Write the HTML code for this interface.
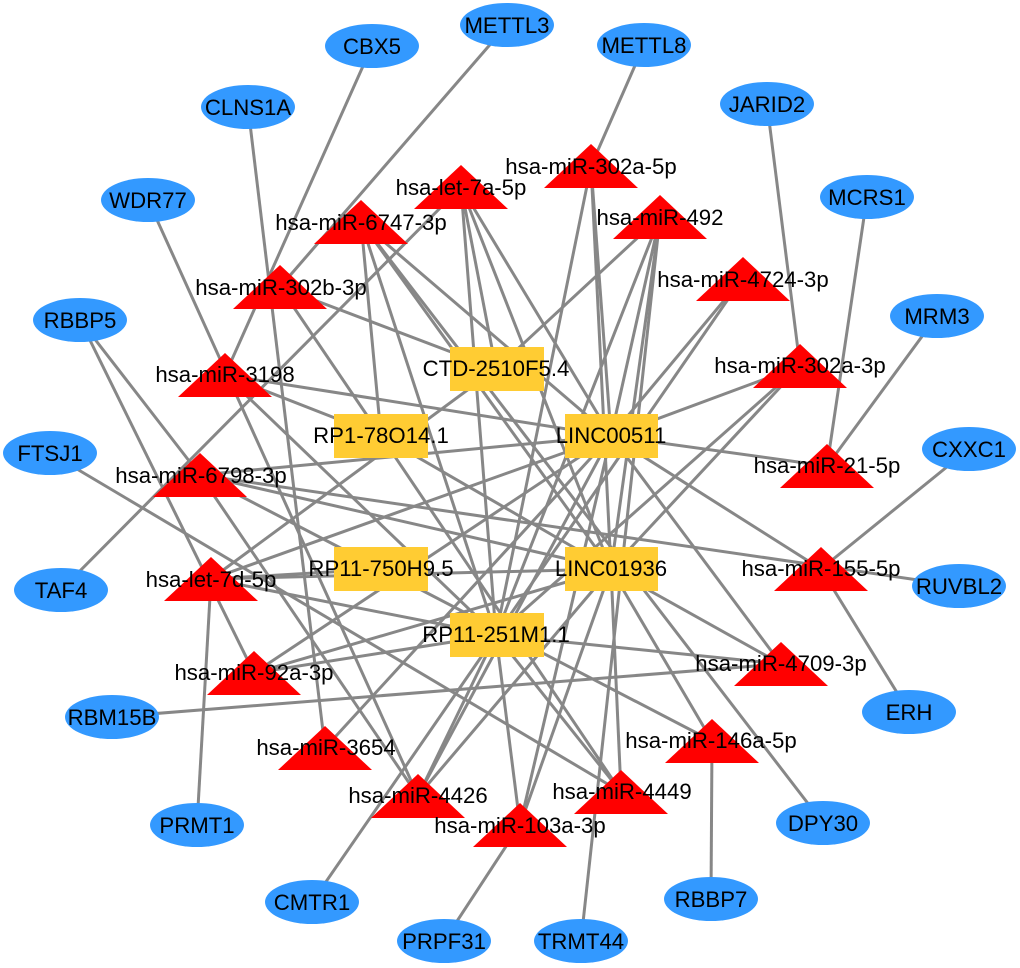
<!DOCTYPE html>
<html>
<head>
<meta charset="utf-8">
<style>
html,body{margin:0;padding:0;background:#fff;}
svg{display:block;}
text{font-family:"Liberation Sans",Arial,sans-serif;font-size:22.2px;fill:#000;text-anchor:middle;}
line{stroke:#878787;stroke-width:3;}
ellipse{fill:#3399ff;}
polygon{fill:#ff0000;}
rect{fill:#ffcc33;}
</style>
</head>
<body>
<svg width="1020" height="968" viewBox="0 0 1020 968" xmlns="http://www.w3.org/2000/svg">
<rect x="0" y="0" width="1020" height="968" style="fill:#fff"/>
<g>
<line x1="507" y1="25" x2="280" y2="287"/>
<line x1="372" y1="46" x2="225" y2="375"/>
<line x1="644" y1="45" x2="591" y2="166"/>
<line x1="248" y1="107" x2="325" y2="748"/>
<line x1="767" y1="104" x2="800" y2="366"/>
<line x1="148" y1="200" x2="418" y2="796"/>
<line x1="867" y1="197" x2="827" y2="466"/>
<line x1="80" y1="320" x2="200" y2="475"/>
<line x1="80" y1="320" x2="254" y2="673"/>
<line x1="937" y1="316" x2="827" y2="466"/>
<line x1="50" y1="453" x2="621" y2="792"/>
<line x1="969" y1="449" x2="821" y2="569"/>
<line x1="61" y1="590" x2="461" y2="187"/>
<line x1="959" y1="586" x2="200" y2="475"/>
<line x1="112" y1="717" x2="781" y2="664"/>
<line x1="909" y1="712" x2="821" y2="569"/>
<line x1="197" y1="825" x2="211" y2="579"/>
<line x1="823" y1="823" x2="361" y2="222"/>
<line x1="312" y1="902" x2="742" y2="279"/>
<line x1="711" y1="899" x2="712" y2="741"/>
<line x1="444" y1="941" x2="520" y2="825"/>
<line x1="581" y1="941" x2="660" y2="217"/>

<line x1="591" y1="166" x2="496" y2="635"/>
<line x1="591" y1="166" x2="611" y2="436"/>
<line x1="591" y1="166" x2="611" y2="569"/>

<line x1="461" y1="187" x2="496" y2="635"/>
<line x1="461" y1="187" x2="496" y2="369"/>
<line x1="461" y1="187" x2="611" y2="569"/>
<line x1="461" y1="187" x2="611" y2="436"/>

<line x1="361" y1="222" x2="381" y2="436"/>
<line x1="361" y1="222" x2="496" y2="635"/>
<line x1="361" y1="222" x2="611" y2="569"/>
<line x1="361" y1="222" x2="611" y2="436"/>

<line x1="280" y1="287" x2="381" y2="436"/>
<line x1="280" y1="287" x2="496" y2="369"/>

<line x1="225" y1="375" x2="611" y2="436"/>
<line x1="225" y1="375" x2="381" y2="436"/>
<line x1="225" y1="375" x2="496" y2="635"/>

<line x1="200" y1="475" x2="611" y2="436"/>
<line x1="200" y1="475" x2="611" y2="569"/>
<line x1="200" y1="475" x2="381" y2="569"/>
<line x1="200" y1="475" x2="418" y2="796"/>

<line x1="211" y1="579" x2="496" y2="369"/>
<line x1="211" y1="579" x2="611" y2="436"/>
<line x1="211" y1="579" x2="381" y2="569"/>
<line x1="211" y1="579" x2="611" y2="569"/>
<line x1="211" y1="579" x2="496" y2="635"/>

<line x1="254" y1="673" x2="611" y2="569"/>
<line x1="254" y1="673" x2="496" y2="635"/>
<line x1="254" y1="673" x2="611" y2="436"/>

<line x1="325" y1="748" x2="611" y2="436"/>

<line x1="418" y1="796" x2="496" y2="635"/>
<line x1="418" y1="796" x2="611" y2="436"/>
<line x1="418" y1="796" x2="611" y2="569"/>

<line x1="520" y1="825" x2="496" y2="635"/>
<line x1="520" y1="825" x2="611" y2="436"/>
<line x1="520" y1="825" x2="611" y2="569"/>

<line x1="621" y1="792" x2="611" y2="569"/>
<line x1="621" y1="792" x2="496" y2="635"/>
<line x1="621" y1="792" x2="381" y2="436"/>

<line x1="712" y1="741" x2="611" y2="569"/>
<line x1="712" y1="741" x2="381" y2="569"/>

<line x1="781" y1="664" x2="611" y2="436"/>
<line x1="781" y1="664" x2="611" y2="569"/>
<line x1="781" y1="664" x2="496" y2="635"/>

<line x1="821" y1="569" x2="611" y2="436"/>
<line x1="827" y1="466" x2="611" y2="436"/>

<line x1="800" y1="366" x2="611" y2="436"/>
<line x1="800" y1="366" x2="611" y2="569"/>
<line x1="800" y1="366" x2="496" y2="635"/>

<line x1="742" y1="279" x2="611" y2="436"/>

<line x1="660" y1="217" x2="496" y2="369"/>
<line x1="660" y1="217" x2="496" y2="635"/>
<line x1="660" y1="217" x2="611" y2="436"/>
<line x1="660" y1="217" x2="611" y2="569"/>

<line x1="381" y1="436" x2="611" y2="569"/>
</g>
<g>
<ellipse cx="507" cy="25" rx="47" ry="22"/>
<ellipse cx="372" cy="46" rx="47" ry="22"/>
<ellipse cx="644" cy="45" rx="47" ry="22"/>
<ellipse cx="248" cy="107" rx="47" ry="22"/>
<ellipse cx="767" cy="104" rx="47" ry="22"/>
<ellipse cx="148" cy="200" rx="47" ry="22"/>
<ellipse cx="867" cy="197" rx="47" ry="22"/>
<ellipse cx="80" cy="320" rx="47" ry="22"/>
<ellipse cx="937" cy="316" rx="47" ry="22"/>
<ellipse cx="50" cy="453" rx="47" ry="22"/>
<ellipse cx="969" cy="449" rx="47" ry="22"/>
<ellipse cx="61" cy="590" rx="47" ry="22"/>
<ellipse cx="959" cy="586" rx="47" ry="22"/>
<ellipse cx="112" cy="717" rx="47" ry="22"/>
<ellipse cx="909" cy="712" rx="47" ry="22"/>
<ellipse cx="197" cy="825" rx="47" ry="22"/>
<ellipse cx="823" cy="823" rx="47" ry="22"/>
<ellipse cx="312" cy="902" rx="47" ry="22"/>
<ellipse cx="711" cy="899" rx="47" ry="22"/>
<ellipse cx="444" cy="941" rx="47" ry="22"/>
<ellipse cx="581" cy="941" rx="47" ry="22"/>
</g>
<g>
<polygon points="591,144 638,188 544,188"/>
<polygon points="461,165 508,209 414,209"/>
<polygon points="361,200 408,244 314,244"/>
<polygon points="280,265 327,309 233,309"/>
<polygon points="225,353 272,397 178,397"/>
<polygon points="200,453 247,497 153,497"/>
<polygon points="211,557 258,601 164,601"/>
<polygon points="254,651 301,695 207,695"/>
<polygon points="325,726 372,770 278,770"/>
<polygon points="418,774 465,818 371,818"/>
<polygon points="520,803 567,847 473,847"/>
<polygon points="621,770 668,814 574,814"/>
<polygon points="712,719 759,763 665,763"/>
<polygon points="781,642 828,686 734,686"/>
<polygon points="821,547 868,591 774,591"/>
<polygon points="827,444 874,488 780,488"/>
<polygon points="800,344 847,388 753,388"/>
<polygon points="743,257 790,301 696,301"/>
<polygon points="660,195 707,239 613,239"/>
</g>
<g>
<rect x="450" y="347" width="94" height="44"/>
<rect x="334" y="414" width="94" height="44"/>
<rect x="565" y="414" width="93" height="44"/>
<rect x="334" y="547" width="94" height="44"/>
<rect x="565" y="547" width="93" height="44"/>
<rect x="450" y="613" width="94" height="44"/>
</g>
<g>
<text x="507" y="33">METTL3</text>
<text x="372" y="54">CBX5</text>
<text x="644" y="53">METTL8</text>
<text x="248" y="115">CLNS1A</text>
<text x="767" y="112">JARID2</text>
<text x="148" y="208">WDR77</text>
<text x="867" y="205">MCRS1</text>
<text x="80" y="328">RBBP5</text>
<text x="937" y="324">MRM3</text>
<text x="50" y="461">FTSJ1</text>
<text x="969" y="457">CXXC1</text>
<text x="61" y="598">TAF4</text>
<text x="959" y="594">RUVBL2</text>
<text x="112" y="725">RBM15B</text>
<text x="909" y="720">ERH</text>
<text x="197" y="833">PRMT1</text>
<text x="823" y="831">DPY30</text>
<text x="312" y="910">CMTR1</text>
<text x="711" y="907">RBBP7</text>
<text x="444" y="949">PRPF31</text>
<text x="581" y="949">TRMT44</text>

<text x="591" y="174">hsa-miR-302a-5p</text>
<text x="461" y="195">hsa-let-7a-5p</text>
<text x="361" y="230">hsa-miR-6747-3p</text>
<text x="281" y="295">hsa-miR-302b-3p</text>
<text x="225" y="382">hsa-miR-3198</text>
<text x="201" y="483">hsa-miR-6798-3p</text>
<text x="211" y="587">hsa-let-7d-5p</text>
<text x="254" y="680">hsa-miR-92a-3p</text>
<text x="326" y="755">hsa-miR-3654</text>
<text x="418" y="803">hsa-miR-4426</text>
<text x="520" y="833">hsa-miR-103a-3p</text>
<text x="622" y="799">hsa-miR-4449</text>
<text x="711" y="748">hsa-miR-146a-5p</text>
<text x="781" y="671">hsa-miR-4709-3p</text>
<text x="821" y="576">hsa-miR-155-5p</text>
<text x="827" y="473">hsa-miR-21-5p</text>
<text x="800" y="373">hsa-miR-302a-3p</text>
<text x="743" y="287">hsa-miR-4724-3p</text>
<text x="660" y="225">hsa-miR-492</text>

<text x="496" y="376">CTD-2510F5.4</text>
<text x="381" y="443">RP1-78O14.1</text>
<text x="611" y="443">LINC00511</text>
<text x="381" y="576">RP11-750H9.5</text>
<text x="611" y="576">LINC01936</text>
<text x="496" y="642">RP11-251M1.1</text>
</g>
</svg>
</body>
</html>
